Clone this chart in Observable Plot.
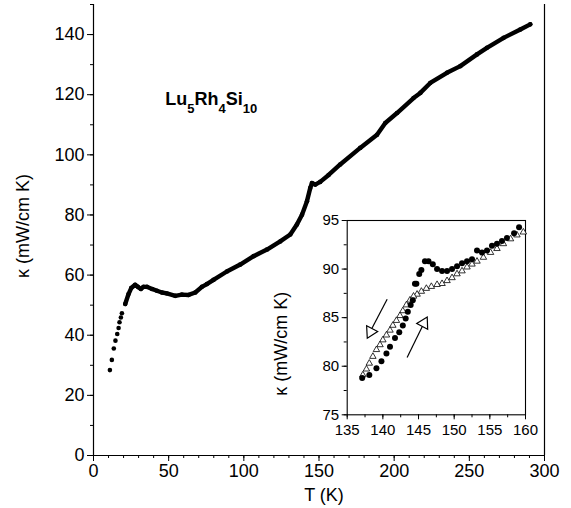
<!DOCTYPE html>
<html><head><meta charset="utf-8">
<script src="https://cdn.jsdelivr.net/npm/d3@7"></script>
<script src="https://cdn.jsdelivr.net/npm/@observablehq/plot@0.6"></script>
<style>
body{margin:0;background:#fff;}
#wrap{position:relative;width:571px;height:508px;}
#inset{position:absolute;left:262px;top:205px;}
svg{overflow:visible;}
</style></head><body><div id="wrap"><div id="main"></div><div id="inset"></div></div>
<script>
// ---- main curve: thermal conductivity vs temperature ----
const mainT = [10.9,12.2,13.5,14.6,15.8,16.7,17.3,18.2,18.9,21.1,23.3,25.1,27.7,29.5,31.5,33.3,35.5,38.9,42.2,45.5,48.8,54.4,58.8,63.2,67.7,72.1,75.4,79.8,88.7,97.6,106.5,115.4,124.2,130.9,135.3,138.7,142.0,144.2,145.3,147.5,150.8,156.4,164.1,177.4,188.6,194.1,201.9,212.9,217.4,224.0,235.1,244.0,255.1,261.7,272.8,283.9,290.5];
const mainK = [28.4,31.8,35.6,38.2,40.4,42.4,44.3,45.9,47.3,50.4,53.7,55.7,56.8,56.1,55.4,56.1,56.1,55.4,54.8,54.2,53.9,53.1,53.5,53.4,54.2,56.1,57.0,58.4,61.2,63.5,66.3,68.5,71.2,73.5,76.8,80.1,84.6,89.0,90.6,90.1,91.0,93.3,96.8,102.3,106.7,110.6,113.9,118.9,120.6,123.9,127.3,129.5,133.4,135.6,138.9,141.7,143.4];
const sparseBelow = 19; // individual dots below this T, dense trace above

// ---- inset: heating (filled circles) ----
const heatT = [137.1,138.1,139.1,139.8,140.5,141.0,141.7,142.3,142.8,143.2,143.5,143.9,144.2,144.5,144.7,145.1,145.4,145.9,146.4,147.0,147.6,148.3,149.0,149.7,150.4,151.1,151.8,152.5,153.2,153.9,154.6,155.3,156.0,156.7,157.4,158.4,159.1];
const heatK = [78.8,79.1,79.8,80.5,81.3,82.0,82.9,83.5,84.2,84.9,85.6,86.3,86.8,88.5,88.5,89.5,89.9,90.8,90.8,90.5,90.0,89.8,89.8,90.0,90.3,90.6,90.8,91.0,91.9,91.7,91.9,92.4,92.6,92.9,93.2,93.7,94.3];
// ---- inset: cooling (open triangles) ----
const coolT = [159.7,158.8,157.9,156.9,156.0,155.1,154.1,153.2,152.5,151.8,151.1,150.4,149.7,149.0,148.3,147.6,146.8,146.1,145.4,144.8,144.3,143.8,143.3,142.8,142.4,141.9,141.4,141.0,140.5,140.0,139.6,139.1,138.6,138.1,137.7,137.2];
const coolK = [93.8,93.5,93.1,92.6,92.1,91.7,91.2,90.8,90.5,90.2,89.8,89.5,89.1,88.8,88.5,88.4,88.2,88.0,87.7,87.4,87.2,86.8,86.3,85.7,85.2,84.7,84.2,83.7,83.2,82.7,82.2,81.7,81.0,80.3,79.7,79.1];

// ---- ticks and labels ----
const mainXTicks = [0,50,100,150,200,250,300];
const mainYTicks = [0,20,40,60,80,100,120,140];
const insetXTicks = [135,140,145,150,155,160];
const insetYTicks = [75,80,85,90,95];
const xTitle = "T (K)";
const yTitle = "κ (mW/cm K)";
const compound = "Lu5Rh4Si10";
const compoundAt = {T: 47.7, K: 116.7};

// inset arrows (data coordinates): cooling arrow and heating arrow
const arrowCool = {T1: 140.6, K1: 86.9, T2: 138.4, K2: 83.8, hT: 138.27, hK: 83.54};
const arrowHeat = {T1: 143.4, K1: 80.9, T2: 145.6, K2: 84.2, hT: 145.75, hK: 84.42};

const FONT = "'Liberation Sans', Arial, Helvetica, sans-serif";
const mainData = mainT.map((t, i) => ({T: t, K: mainK[i]}));
const heat = heatT.map((t, i) => ({T: t, K: heatK[i]}));
const cool = coolT.map((t, i) => ({T: t, K: coolK[i]}));

const main = Plot.plot({
  width: 571, height: 508,
  marginLeft: 93, marginRight: 27, marginTop: 4, marginBottom: 53,
  x: {domain: [0, 300]},
  y: {domain: [0, 150]},
  style: {fontFamily: FONT, fontSize: "18px", color: "#000", background: "transparent"},
  marks: [
    Plot.axisX({ticks: mainXTicks, tickSize: 6, tickPadding: 3, fontSize: 18, label: null}),
    Plot.axisX({ticks: d3.range(0, 301, 10), tickSize: 3, text: null, label: null}),
    Plot.axisY({ticks: mainYTicks, tickSize: 6, tickPadding: 3, fontSize: 18, label: null}),
    Plot.axisY({ticks: d3.range(0, 151, 10), tickSize: 3, text: null, label: null}),
    Plot.ruleY([0], {stroke: "#000", strokeWidth: 1.2}),
    Plot.ruleX([0, 300], {stroke: "#000", strokeWidth: 1.2}),
    Plot.line(mainData.filter(d => d.T >= sparseBelow), {x: "T", y: "K", stroke: "#000", strokeWidth: 4.4, strokeLinejoin: "round", strokeLinecap: "round"}),
    Plot.dot(mainData, {x: "T", y: "K", r: 2.3, fill: "#000", stroke: "none"}),
    Plot.text([xTitle], {frameAnchor: "bottom", lineAnchor: "bottom", dy: 45, dx: 5, fontSize: 18, fill: "#000"}),
    Plot.text([yTitle], {frameAnchor: "left", textAnchor: "middle", rotate: -90, dx: -70, dy: -4, fontSize: 18, fill: "#000"}),
    Plot.text([compound], {x: () => compoundAt.T, y: () => compoundAt.K, textAnchor: "start", lineAnchor: "bottom", fontSize: 18, fontWeight: "bold", fill: "#000"})
  ]
});
document.getElementById("main").appendChild(main);

// build subscripts in the compound label
d3.select(main).selectAll("text").filter(function(){ return this.textContent === compound; }).each(function(){
  const t = d3.select(this);
  t.text(null);
  const parts = [["Lu",0],["5",1],["Rh",0],["4",1],["Si",0],["10",1]];
  parts.forEach(([s, sub], i) => {
    const ts = t.append("tspan").text(s);
    if (sub) ts.attr("dy", 8).attr("font-size", 13);
    else if (i > 0) ts.attr("dy", -8);
  });
});

const inset = Plot.plot({
  width: 278, height: 240,
  marginLeft: 84.7, marginRight: 15, marginTop: 15, marginBottom: 30.7,
  x: {domain: [135, 160]},
  y: {domain: [75, 95]},
  style: {fontFamily: FONT, fontSize: "14px", color: "#000", background: "transparent"},
  marks: [
    Plot.frame({stroke: "#000", strokeWidth: 1.1}),
    Plot.axisX({ticks: insetXTicks, tickSize: 5, tickPadding: 5, fontSize: 15, label: null}),
    Plot.axisX({ticks: d3.range(135, 160.1, 2.5), tickSize: 3, text: null, label: null}),
    Plot.axisY({ticks: insetYTicks, tickSize: 5, tickPadding: 3, fontSize: 15, label: null}),
    Plot.axisY({ticks: d3.range(75, 95.1, 2.5), tickSize: 3, text: null, label: null}),
    Plot.dot(cool, {x: "T", y: "K", symbol: "triangle", r: 2.4, fill: "white", stroke: "#000", strokeWidth: 0.8}),
    Plot.dot(heat, {x: "T", y: "K", r: 3, fill: "#000", stroke: "none"}),
    Plot.link([arrowCool, arrowHeat], {x1: "T1", y1: "K1", x2: "T2", y2: "K2", stroke: "#000", strokeWidth: 1.2}),
    Plot.dot([arrowCool], {x: "hT", y: "hK", symbol: "triangle", r: 4.6, rotate: 207, fill: "white", stroke: "#000", strokeWidth: 1.2}),
    Plot.dot([arrowHeat], {x: "hT", y: "hK", symbol: "triangle", r: 4.6, rotate: 28, fill: "white", stroke: "#000", strokeWidth: 1.2}),
    Plot.text([yTitle], {frameAnchor: "left", textAnchor: "middle", rotate: -90, dx: -66, dy: 26, fontSize: 18, fill: "#000"})
  ]
});
document.getElementById("inset").appendChild(inset);
</script>
</body></html>
